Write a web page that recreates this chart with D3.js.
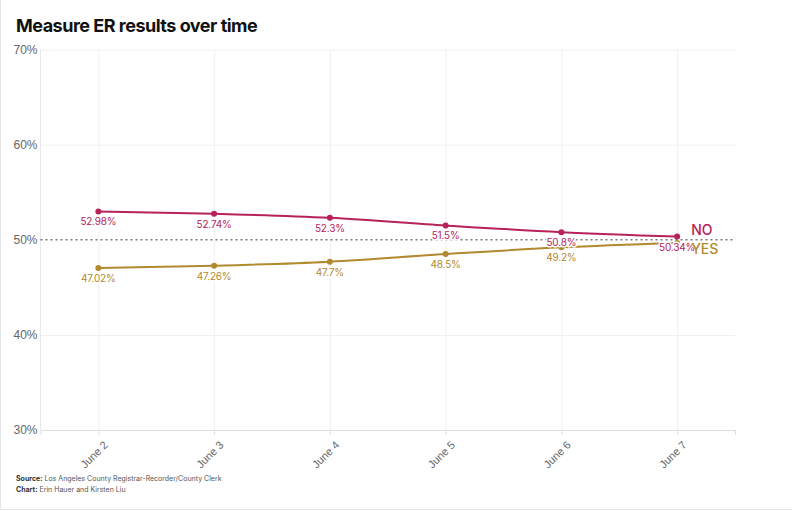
<!DOCTYPE html>
<html>
<head>
<meta charset="utf-8">
<script src="https://cdn.jsdelivr.net/npm/d3@7"></script>
<style>
    body { margin: 0; background: #fff; font-family: Inter, "Noto Sans", sans-serif; }
    #chart { width: 792px; height: 511px; }
    .title { font-size: 18px; font-weight: 700; fill: #111; letter-spacing: -0.5px; }
    .axis text { font-size: 12px; fill: #666; }
    .axis--x text { font-size: 11px; }
    .grid line { stroke: #f0f0f0; }
    .grid .domain { display: none; }
    .point-label { font-size: 10px; letter-spacing: -0.2px; paint-order: stroke; stroke: #fff; stroke-width: 3px; stroke-linejoin: round; }
    .series-label { font-size: 14px; font-weight: 500; }
    .credit { font-size: 7px; fill: #555; }
    .credit tspan.b { font-weight: 700; fill: #333; }
</style>
</head>
<body>
<div id="chart"></div>
<script>
// Data
const dates = ['June 2', 'June 3', 'June 4', 'June 5', 'June 6', 'June 7'];
const noValues = [52.98, 52.74, 52.3, 51.5, 50.8, 50.34];
const yesValues = [47.02, 47.26, 47.7, 48.5, 49.2, 49.66];
const yTicks = [30, 40, 50, 60, 70];

const series = [
    {key: 'NO', values: noValues, color: '#b8225a', labelDy: -6},
    {key: 'YES', values: yesValues, color: '#b1892f', labelDy: 6}
];

const W = 792, H = 511;
const margin = {top: 49.5, right: 57, bottom: 81, left: 40.5};
const width = W - margin.left - margin.right,
      height = H - margin.top - margin.bottom;

const svg = d3.select('#chart').append('svg')
    .attr('width', W)
    .attr('height', H);

// frame
svg.append('line').attr('x1', 0.5).attr('x2', 0.5).attr('y1', 0).attr('y2', H - 1.5)
    .attr('stroke', '#e6e6e6');
svg.append('line').attr('x1', 0).attr('x2', W).attr('y1', H - 1.5).attr('y2', H - 1.5)
    .attr('stroke', '#e6e6e6');

svg.append('text')
    .attr('class', 'title')
    .attr('x', 16)
    .attr('y', 32)
    .text('Measure ER results over time');

const g = svg.append('g')
    .attr('transform', 'translate(' + margin.left + ',' + margin.top + ')');

const xScale = d3.scalePoint().domain(dates).range([0, width]).padding(0.5);
const yScale = d3.scaleLinear().domain([30, 70]).range([height, 0]);

// GRIDLINES
g.append('g')
    .attr('class', 'grid grid--x')
    .call(d3.axisBottom(xScale).tickSize(height).tickFormat(''));

g.append('g')
    .attr('class', 'grid grid--y')
    .call(d3.axisLeft(yScale).tickValues(yTicks.filter(d => d !== 50)).tickSize(-width).tickFormat(''));

// left axis line
g.append('line')
    .attr('x1', 0).attr('x2', 0).attr('y1', 0).attr('y2', height)
    .attr('stroke', '#e8e8e8');

// AXIS
const yAxis = g.append('g')
    .attr('class', 'axis axis--y')
    .call(d3.axisLeft(yScale).tickValues(yTicks).tickSize(0).tickPadding(3).tickFormat(d => d + '%'));
yAxis.select('.domain').remove();

const xAxis = g.append('g')
    .attr('class', 'axis axis--x')
    .attr('transform', 'translate(0,' + height + ')')
    .call(d3.axisBottom(xScale).tickSize(5));
xAxis.select('.domain').attr('stroke', '#ddd');
xAxis.selectAll('.tick line').attr('stroke', '#ddd');
xAxis.selectAll('.tick text')
    .attr('text-anchor', 'end')
    .attr('dy', 0)
    .attr('transform', 'translate(4,10) rotate(-45)');

// 50% reference line
g.append('line')
    .attr('x1', 0).attr('x2', width)
    .attr('y1', yScale(50)).attr('y2', yScale(50))
    .attr('stroke', '#777')
    .attr('stroke-width', 1.5)
    .attr('stroke-dasharray', '2,3');

// LINES
const line = d3.line()
    .x((d, i) => xScale(dates[i]))
    .y(d => yScale(d))
    .curve(d3.curveMonotoneX);

const lineg = g.selectAll('.line--group')
    .data(series)
    .enter().append('g')
    .attr('class', d => 'line--group d3-' + d.key);

lineg.append('path')
    .attr('fill', 'none')
    .attr('stroke', d => d.color)
    .attr('stroke-width', 2)
    .attr('d', d => line(d.values));

lineg.selectAll('circle')
    .data(d => d.values.map((v, i) => ({v: v, i: i, color: d.color})))
    .enter().append('circle')
    .attr('cx', d => xScale(dates[d.i]))
    .attr('cy', d => yScale(d.v))
    .attr('r', 3)
    .attr('fill', d => d.color);

// LABELS (drawn above all lines)
const labelg = g.selectAll('.label--group')
    .data(series)
    .enter().append('g')
    .attr('class', 'label--group');

labelg.append('text')
    .attr('class', 'series-label')
    .attr('fill', d => d.color)
    .attr('x', xScale(dates[dates.length - 1]) + 14)
    .attr('y', d => yScale(d.values[d.values.length - 1]) + d.labelDy)
    .attr('dy', '0.35em')
    .text(d => d.key);

// point labels (last YES label is hidden in the original)
labelg.selectAll('.point-label')
    .data(d => d.values.map((v, i) => ({v: v, i: i, color: d.color, key: d.key}))
        .filter(p => !(p.key === 'YES' && p.i === dates.length - 1)))
    .enter().append('text')
    .attr('class', 'point-label')
    .attr('text-anchor', 'middle')
    .attr('fill', d => d.color)
    .attr('x', d => xScale(dates[d.i]))
    .attr('y', d => yScale(d.v) + 14)
    .text(d => d.v + '%');

// SOURCE
const credit = svg.append('text').attr('class', 'credit').attr('x', 16).attr('y', 481);
credit.append('tspan').attr('class', 'b').text('Source:');
credit.append('tspan').text(' Los Angeles County Registrar-Recorder/County Clerk');
const credit2 = svg.append('text').attr('class', 'credit').attr('x', 16).attr('y', 492);
credit2.append('tspan').attr('class', 'b').text('Chart:');
credit2.append('tspan').text(' Erin Hauer and Kirsten Liu');
</script>
</body>
</html>
